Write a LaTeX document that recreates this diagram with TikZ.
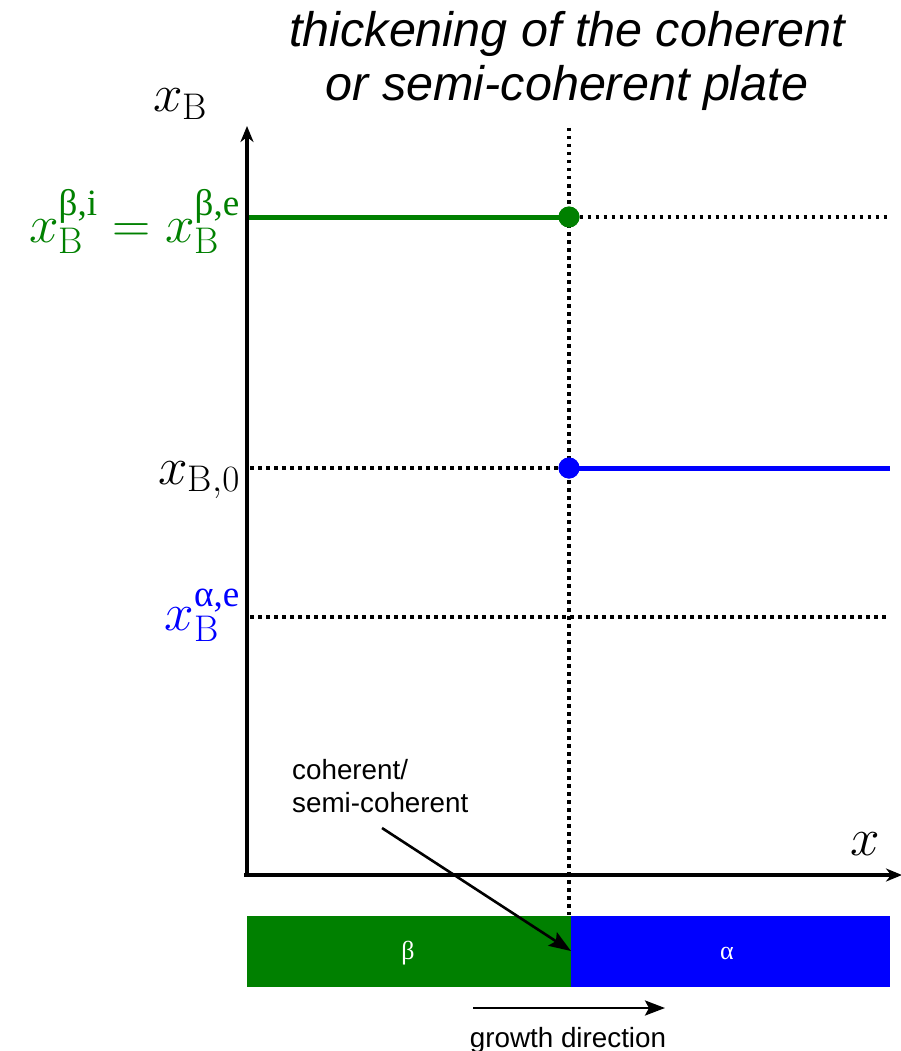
\RequirePackage{fix-cm}
\documentclass[tikz,border=0pt]{standalone}
\usepackage{amsmath}
\usepackage{fontspec}
\newfontfamily\arial{Liberation Sans}
\newfontfamily\gk{Liberation Serif}
\usetikzlibrary{arrows.meta}
\definecolor{phgreen}{RGB}{0,128,0}
\definecolor{phblue}{RGB}{0,0,255}
\tikzset{
  axis/.style={line width=3.6pt, -{Stealth[length=16pt,width=13pt,inset=5pt]}},
  dots/.style={line width=3.5pt, dash pattern=on 3.5pt off 4.5pt},
  level/.style={line width=5pt},
  ptdot/.style={circle, inner sep=0pt, minimum size=21pt},
  mathlbl/.style={inner sep=0pt, font=\fontsize{53}{60}\selectfont},
  titletxt/.style={inner sep=0pt, font=\arial\itshape\fontsize{48.5}{55}\selectfont},
  annot/.style={inner sep=0pt, font=\arial\fontsize{27.8}{33}\selectfont},
  phase/.style={inner sep=0pt, minimum height=71pt, anchor=north west},
  phlbl/.style={inner sep=0pt, text=white, font=\gk\fontsize{26}{30}\selectfont},
  pointer/.style={line width=2.6pt, -{Stealth[length=22pt,width=16pt,inset=4pt]}},
  growarr/.style={line width=2.8pt, -{Stealth[length=20pt,width=15pt,inset=4pt]}}
}
\begin{document}
\begin{tikzpicture}[x=1pt,y=-1pt]
\path[use as bounding box] (0,0) rectangle (900,1051);
% title
\node[titletxt, anchor=base] (title1) at (567,47) {thickening of the coherent};
\node[titletxt, anchor=base] (title2) at (567,101) {or semi-coherent plate};
% phase boxes
\node[phase, fill=phgreen, minimum width=324pt] (betabox) at (247,916) {};
\node[phase, fill=phblue, minimum width=319pt] (alphabox) at (571,916) {};
\node[phlbl] (betalbl) at (408,953) {β};
\node[phlbl] (alphalbl) at (727,953) {α};
% coordinates
\coordinate (O) at (247,875);
\coordinate (Ox) at (244,875);
\coordinate (ytop) at (247,126);
\coordinate (xend) at (902,875);
\coordinate (vtop) at (569,128);
\coordinate (vbot) at (569,915);
% dotted lines
\draw[dots] (vtop) -- (vbot);
\coordinate (gdotend) at (890,217);
\coordinate (b0start) at (250,468);
\coordinate (aestart) at (250,617);
\coordinate (aeend) at (890,617);
\coordinate (bluend) at (890,468);
\coordinate (greenstart) at (247,217);
\draw[dots] (aestart) -- (aeend);
% green level
\node[ptdot, fill=phgreen] (gdot) at (569,217) {};
\draw[dots] (gdot) -- (gdotend);
\draw[level, phgreen] (greenstart) -- (gdot.center);
% blue level
\node[ptdot, fill=phblue] (bdot) at (569,468) {};
\draw[dots] (b0start) -- (bdot);
\draw[level, phblue] (bdot.center) -- (bluend);
\node[ptdot, fill=phgreen] at (gdot) {};
\node[ptdot, fill=phblue] at (bdot) {};
% axes
\draw[axis] (O) -- (ytop);
\draw[axis] (Ox) -- (xend);
% axis labels
\node[mathlbl, anchor=base west] (xBlbl) at (153,112) {$x_{\mathrm{B}}$};
\node[mathlbl, anchor=base] (xlbl) at (865,855) {$x$};
\node[mathlbl, anchor=base east, text=phgreen] (betalev) at (240,242) {$x_{\mathrm{B}}^{\text{\gk β,i}}=x_{\mathrm{B}}^{\text{\gk β,e}}$};
\node[mathlbl, anchor=base east] (b0lev) at (240,484) {$x_{\mathrm{B},0}$};
\node[mathlbl, anchor=base east, text=phblue] (aelev) at (240,630) {$x_{\mathrm{B}}^{\text{\gk α,e}}$};
% annotation
\node[annot, anchor=base west] (coh1) at (292,779) {coherent/};
\node[annot, anchor=base west] (coh2) at (292,812) {semi-coherent};
\coordinate (cohstart) at (382,828);
\coordinate (iface) at (571,951);
\draw[pointer] (cohstart) -- (iface);
% growth direction
\coordinate (g1) at (473,1008);
\coordinate (g2) at (665,1008);
\draw[growarr] (g1) -- (g2);
\node[annot, anchor=base] (growth) at (568,1047) {growth direction};
\end{tikzpicture}
\end{document}
